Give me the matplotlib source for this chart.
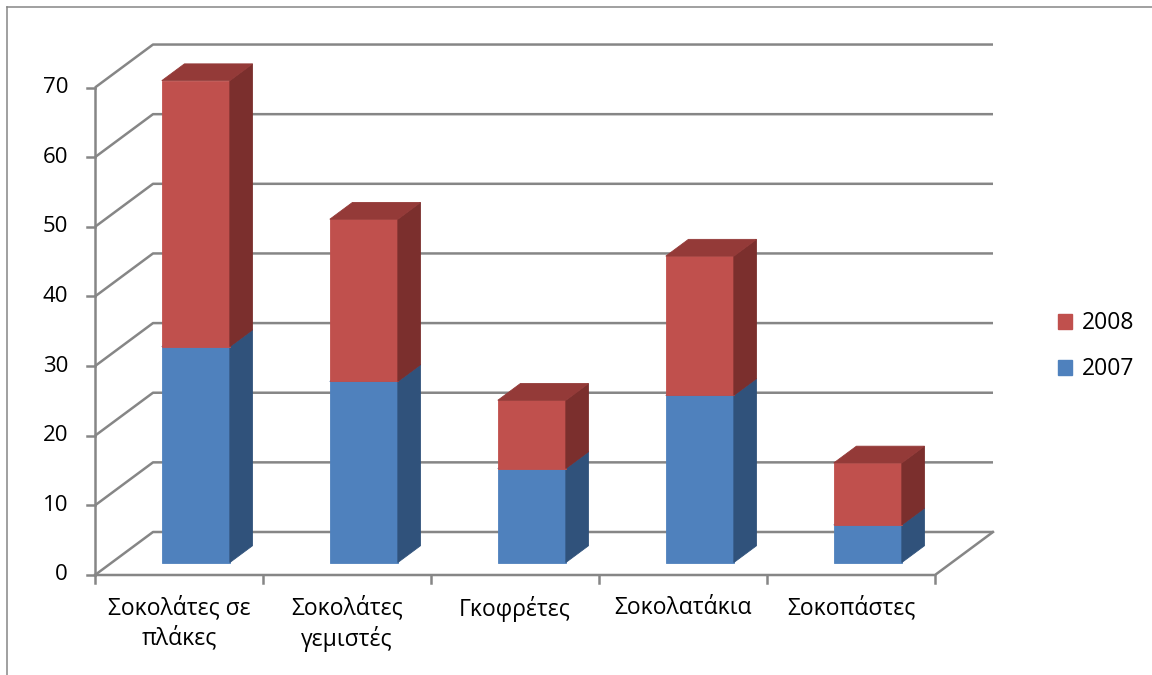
import matplotlib.pyplot as plt
from matplotlib.lines import Line2D
from matplotlib.patches import Patch

plt.rcParams['font.family'] = ['Open Sans', 'DejaVu Sans']

categories = ['Σοκολάτες σε\nπλάκες', 'Σοκολάτες\nγεμιστές', 'Γκοφρέτες',
              'Σοκολατάκια', 'Σοκοπάστες']
sales_2007 = [31, 26, 13.5, 24, 5.4]
sales_2008 = [38.2, 23.3, 9.8, 20, 8.9]
y_ticks = [0, 10, 20, 30, 40, 50, 60, 70]

RED, RED_TOP, RED_SIDE = '#C0504D', '#943A38', '#7B2F2D'
BLUE, BLUE_TOP, BLUE_SIDE = '#4F81BD', '#3A6296', '#30527B'
GRID = '#868686'

# oblique projection: depth 1 shifts right/up by these amounts (data units)
DEPTH_X = 58 / 168
DEPTH_Y = 43 / 6.964
BAR_W = 0.405
D_FRONT, D_BACK = 0.29, 0.68


def proj(x, v, d):
    return x + d * DEPTH_X, v + d * DEPTH_Y


def face(ax, pts, color, z):
    xs, ys = zip(*[proj(*p) for p in pts])
    ax.fill(xs, ys, color=color, lw=0.6, ec=color, zorder=z)


fig = plt.figure(figsize=(11.52, 6.75), dpi=100)
ax = fig.add_axes([0, 0, 1, 1])
ax.set_xlim(-1.0655, 5.7917)
ax.set_ylim(-14.36, 82.57)
ax.axis('off')

n = len(categories)
top = y_ticks[-1]

# back wall and left side wall gridlines
for v in y_ticks:
    xs, ys = zip(proj(-0.5, v, 0), proj(-0.5, v, 1), proj(n - 0.5, v, 1))
    ax.plot(xs, ys, color=GRID, lw=1.8, zorder=1, solid_capstyle='butt')

# floor
xs, ys = zip(proj(-0.5, 0, 0), proj(n - 0.5, 0, 0), proj(n - 0.5, 0, 1))
ax.plot(xs, ys, color=GRID, lw=1.8, zorder=1)

# value axis with ticks
ax.plot([-0.5, -0.5], [0, top], color=GRID, lw=1.8, zorder=1)
for v in y_ticks:
    ax.plot([-0.5 - 8 / 168, -0.5], [v, v], color=GRID, lw=1.8, zorder=1)
    ax.text(-0.5 - 27 / 168, v, str(v), ha='right', va='center',
            fontsize=16, color='black')

# category ticks and labels
for i in range(n + 1):
    ax.plot([i - 0.5, i - 0.5], [0, -8 / 6.964], color=GRID, lw=1.8, zorder=1)
for i, name in enumerate(categories):
    ax.text(i, -21 / 6.964, name, ha='center', va='top', fontsize=16.5,
            linespacing=1.25, color='black')

# stacked 3D columns
for i in range(n):
    x0, x1 = i - BAR_W / 2, i + BAR_W / 2
    segments = [(0, sales_2007[i], BLUE, BLUE_TOP, BLUE_SIDE),
                (sales_2007[i], sales_2007[i] + sales_2008[i], RED, RED_TOP, RED_SIDE)]
    for b, t, c_front, c_top, c_side in segments:
        face(ax, [(x0, b, D_FRONT), (x1, b, D_FRONT), (x1, t, D_FRONT), (x0, t, D_FRONT)],
             c_front, 3)
        face(ax, [(x1, b, D_FRONT), (x1, b, D_BACK), (x1, t, D_BACK), (x1, t, D_FRONT)],
             c_side, 3)
        face(ax, [(x0, t, D_FRONT), (x1, t, D_FRONT), (x1, t, D_BACK), (x0, t, D_BACK)],
             c_top, 3)

handles = [Patch(color=RED, label='2008'), Patch(color=BLUE, label='2007')]
ax.legend(handles=handles, loc='center left', bbox_to_anchor=(0.9105, 0.487),
          frameon=False, fontsize=16.5, handlelength=0.62, handleheight=0.62,
          handletextpad=0.4, labelspacing=0.95, borderaxespad=0)

# chart border
fig.add_artist(Line2D([7 / 1152, 7 / 1152], [0, 1 - 7 / 675], color=GRID, lw=1.1))
fig.add_artist(Line2D([7 / 1152, 1], [1 - 7 / 675, 1 - 7 / 675], color=GRID, lw=1.1))

fig.savefig('out.png', dpi=100)
